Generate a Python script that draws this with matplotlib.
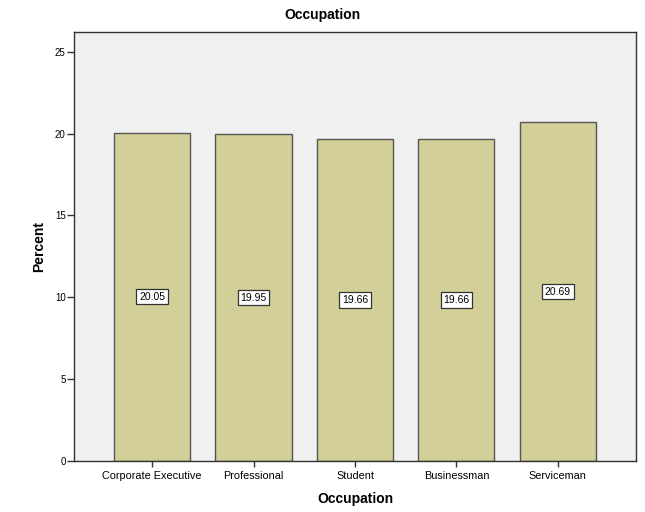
import matplotlib.pyplot as plt
import numpy as np

plt.rcParams['font.family'] = ['Liberation Sans', 'DejaVu Sans']

categories = ["Corporate Executive", "Professional", "Student", "Businessman", "Serviceman"]
percent = [20.05, 19.95, 19.66, 19.66, 20.69]
yticks = [0, 5, 10, 15, 20, 25]

bar_color = "#d3cf98"
edge_color = "#555555"
panel_color = "#f0f0f0"

fig = plt.figure(figsize=(6.45, 5.12), dpi=100)
ax = fig.add_axes([0.1147, 0.0996, 0.8713, 0.8379])
ax.set_facecolor(panel_color)

x = np.arange(len(categories))
bars = ax.bar(x, percent, width=0.75, color=bar_color, edgecolor=edge_color, linewidth=1.0, zorder=2)

# value boxes sit halfway up each bar
for xi, v in zip(x, percent):
    ax.text(xi, v / 2, f"{v:.2f}", ha="center", va="center", fontsize=7.5,
            bbox=dict(boxstyle="square,pad=0.25", facecolor="white", edgecolor="#333333", linewidth=0.9),
            zorder=3)

ax.set_xlim(-0.77, 4.77)
ax.set_ylim(0, 26.2)
ax.set_xticks(x)
ax.set_xticklabels(categories, fontsize=7.8)
ax.set_yticks(yticks)
ax.set_yticklabels([str(t) for t in yticks], fontsize=7)
ax.tick_params(axis="y", length=5, width=1, color="#333333", pad=1)
ax.tick_params(axis="x", length=4, width=1, color="#333333", pad=3)

for s in ax.spines.values():
    s.set_color("#333333")
    s.set_linewidth(1.0)

ax.set_xlabel("Occupation", fontsize=10, fontweight="bold", labelpad=8)
ax.set_ylabel("Percent", fontsize=10, fontweight="bold", labelpad=6)
fig.suptitle("Occupation", fontsize=10, fontweight="bold", x=0.5, y=0.985)

fig.savefig("out.png", dpi=100)
